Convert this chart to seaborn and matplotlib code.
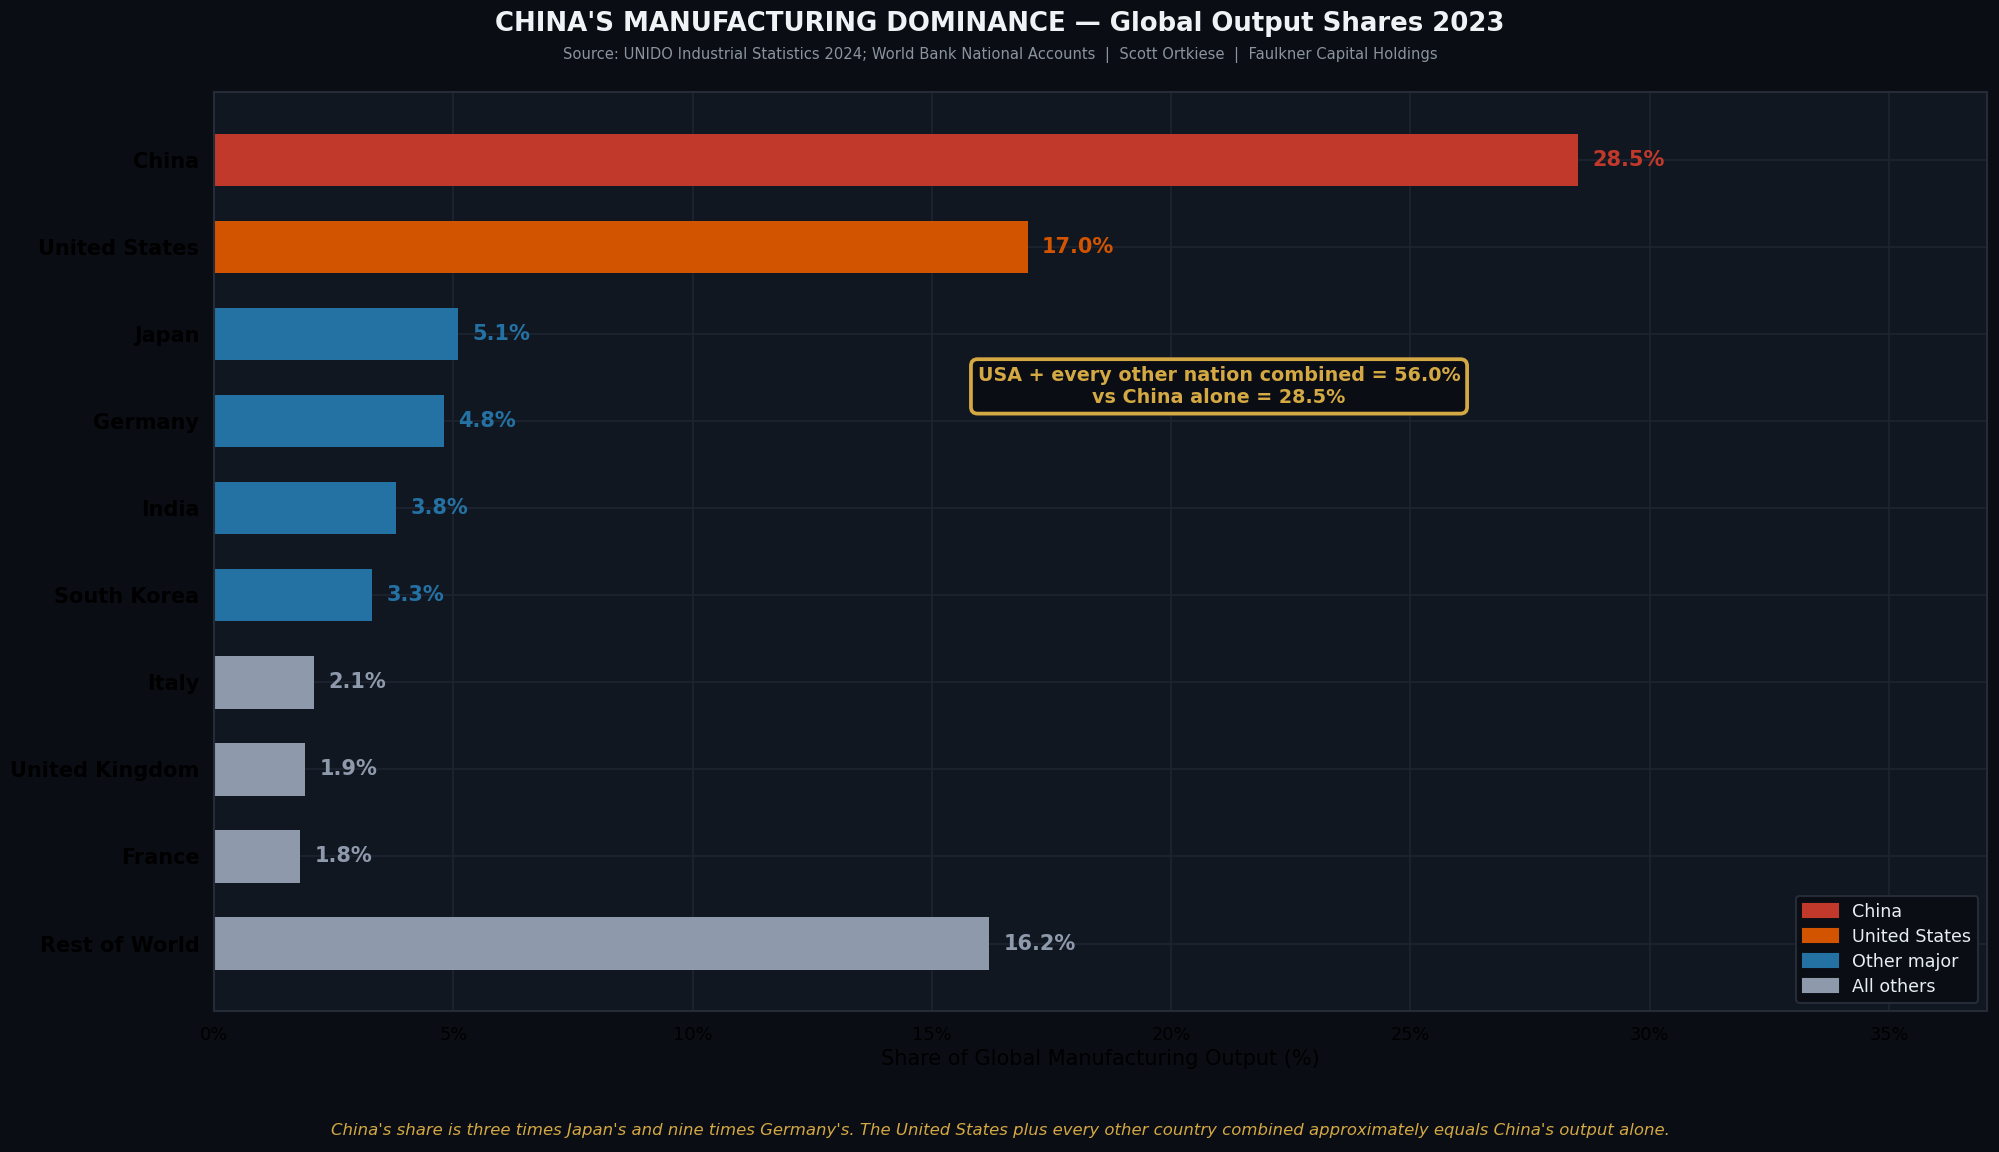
import matplotlib
matplotlib.use("Agg")
import matplotlib.pyplot as plt
import seaborn as sns
import pandas as pd
from matplotlib.patches import Patch

countries = ["China", "United States", "Japan", "Germany", "India",
             "South Korea", "Italy", "United Kingdom", "France", "Rest of World"]
shares = [28.5, 17.0, 5.1, 4.8, 3.8, 3.3, 2.1, 1.9, 1.8, 16.2]
groups = ["China", "United States", "Other major", "Other major", "Other major",
          "Other major", "All others", "All others", "All others", "All others"]
group_order = ["China", "United States", "Other major", "All others"]
group_colors = ["#c0392b", "#d35400", "#2471a3", "#8e9aab"]

BG = "#0a0d14"
AX_BG = "#111721"
GOLD = "#d4a843"

df = pd.DataFrame({"country": countries, "share": shares, "group": groups})
palette = dict(zip(group_order, group_colors))

sns.set_style("dark")
plt.rcParams["font.family"] = ["DejaVu Sans"]

fig, ax = plt.subplots(figsize=(13.333, 7.68), dpi=150)
fig.patch.set_facecolor(BG)
ax.set_facecolor(AX_BG)

sns.barplot(data=df, x="share", y="country", hue="group", hue_order=group_order,
            palette=palette, dodge=False, width=0.6, saturation=1,
            linewidth=0, legend=False, ax=ax)

# value labels
for i, (v, g) in enumerate(zip(shares, groups)):
    ax.text(v + 0.3, i, f"{v:.1f}%", va="center", ha="left", fontsize=10,
            fontweight="bold", color=palette[g])

ax.set_xlim(0, max(shares) * 1.3)
ax.set_ylim(9.78, -0.78)
ax.set_xticks(range(0, 36, 5))
ax.set_xticklabels([f"{t}%" for t in range(0, 36, 5)], fontsize=8.5, color="black")
ax.tick_params(axis="y", labelsize=10, colors="black", length=3.5, width=0.8)
ax.tick_params(axis="x", colors="black", length=3.5, width=0.8)
for lbl in ax.get_yticklabels():
    lbl.set_fontweight("bold")
ax.set_ylabel("")
ax.set_xlabel("Share of Global Manufacturing Output (%)", fontsize=10, color="black",
              labelpad=2.5)

ax.grid(True, color="#1e2530", linewidth=0.8)
ax.set_axisbelow(True)
for sp in ax.spines.values():
    sp.set_visible(True)
    sp.set_color("#252c38")
    sp.set_linewidth(1)

ax.text(21.0, 2.6, "USA + every other nation combined = 56.0%\nvs China alone = 28.5%",
        ha="center", va="center", fontsize=9.2, fontweight="bold", color=GOLD,
        bbox=dict(boxstyle="round,pad=0.35", facecolor=BG, edgecolor=GOLD, linewidth=1.8))

handles = [Patch(facecolor=c, edgecolor=c, label=g) for g, c in zip(group_order, group_colors)]
leg = ax.legend(handles=handles, loc="lower right", fontsize=8.4, facecolor=BG,
                edgecolor="#252c38", framealpha=1, labelcolor="#e6edf3",
                labelspacing=0.4)

fig.subplots_adjust(left=0.107, right=0.9936, top=0.920, bottom=0.122)

fig.text(0.5, 0.979, "CHINA'S MANUFACTURING DOMINANCE \u2014 Global Output Shares 2023",
         ha="center", va="center", fontsize=12.5, fontweight="bold", color="#f0f3f6")
fig.text(0.5, 0.952, "Source: UNIDO Industrial Statistics 2024; World Bank National Accounts  |  "
         "Scott Ortkiese  |  Faulkner Capital Holdings",
         ha="center", va="center", fontsize=7.1, color="#8b949e")
fig.text(0.5, 0.019, "China's share is three times Japan's and nine times Germany's. "
         "The United States plus every other country combined approximately equals China's output alone.",
         ha="center", va="center", fontsize=7.9, style="italic", color=GOLD)

fig.savefig("out.png", dpi=150, facecolor=BG)
